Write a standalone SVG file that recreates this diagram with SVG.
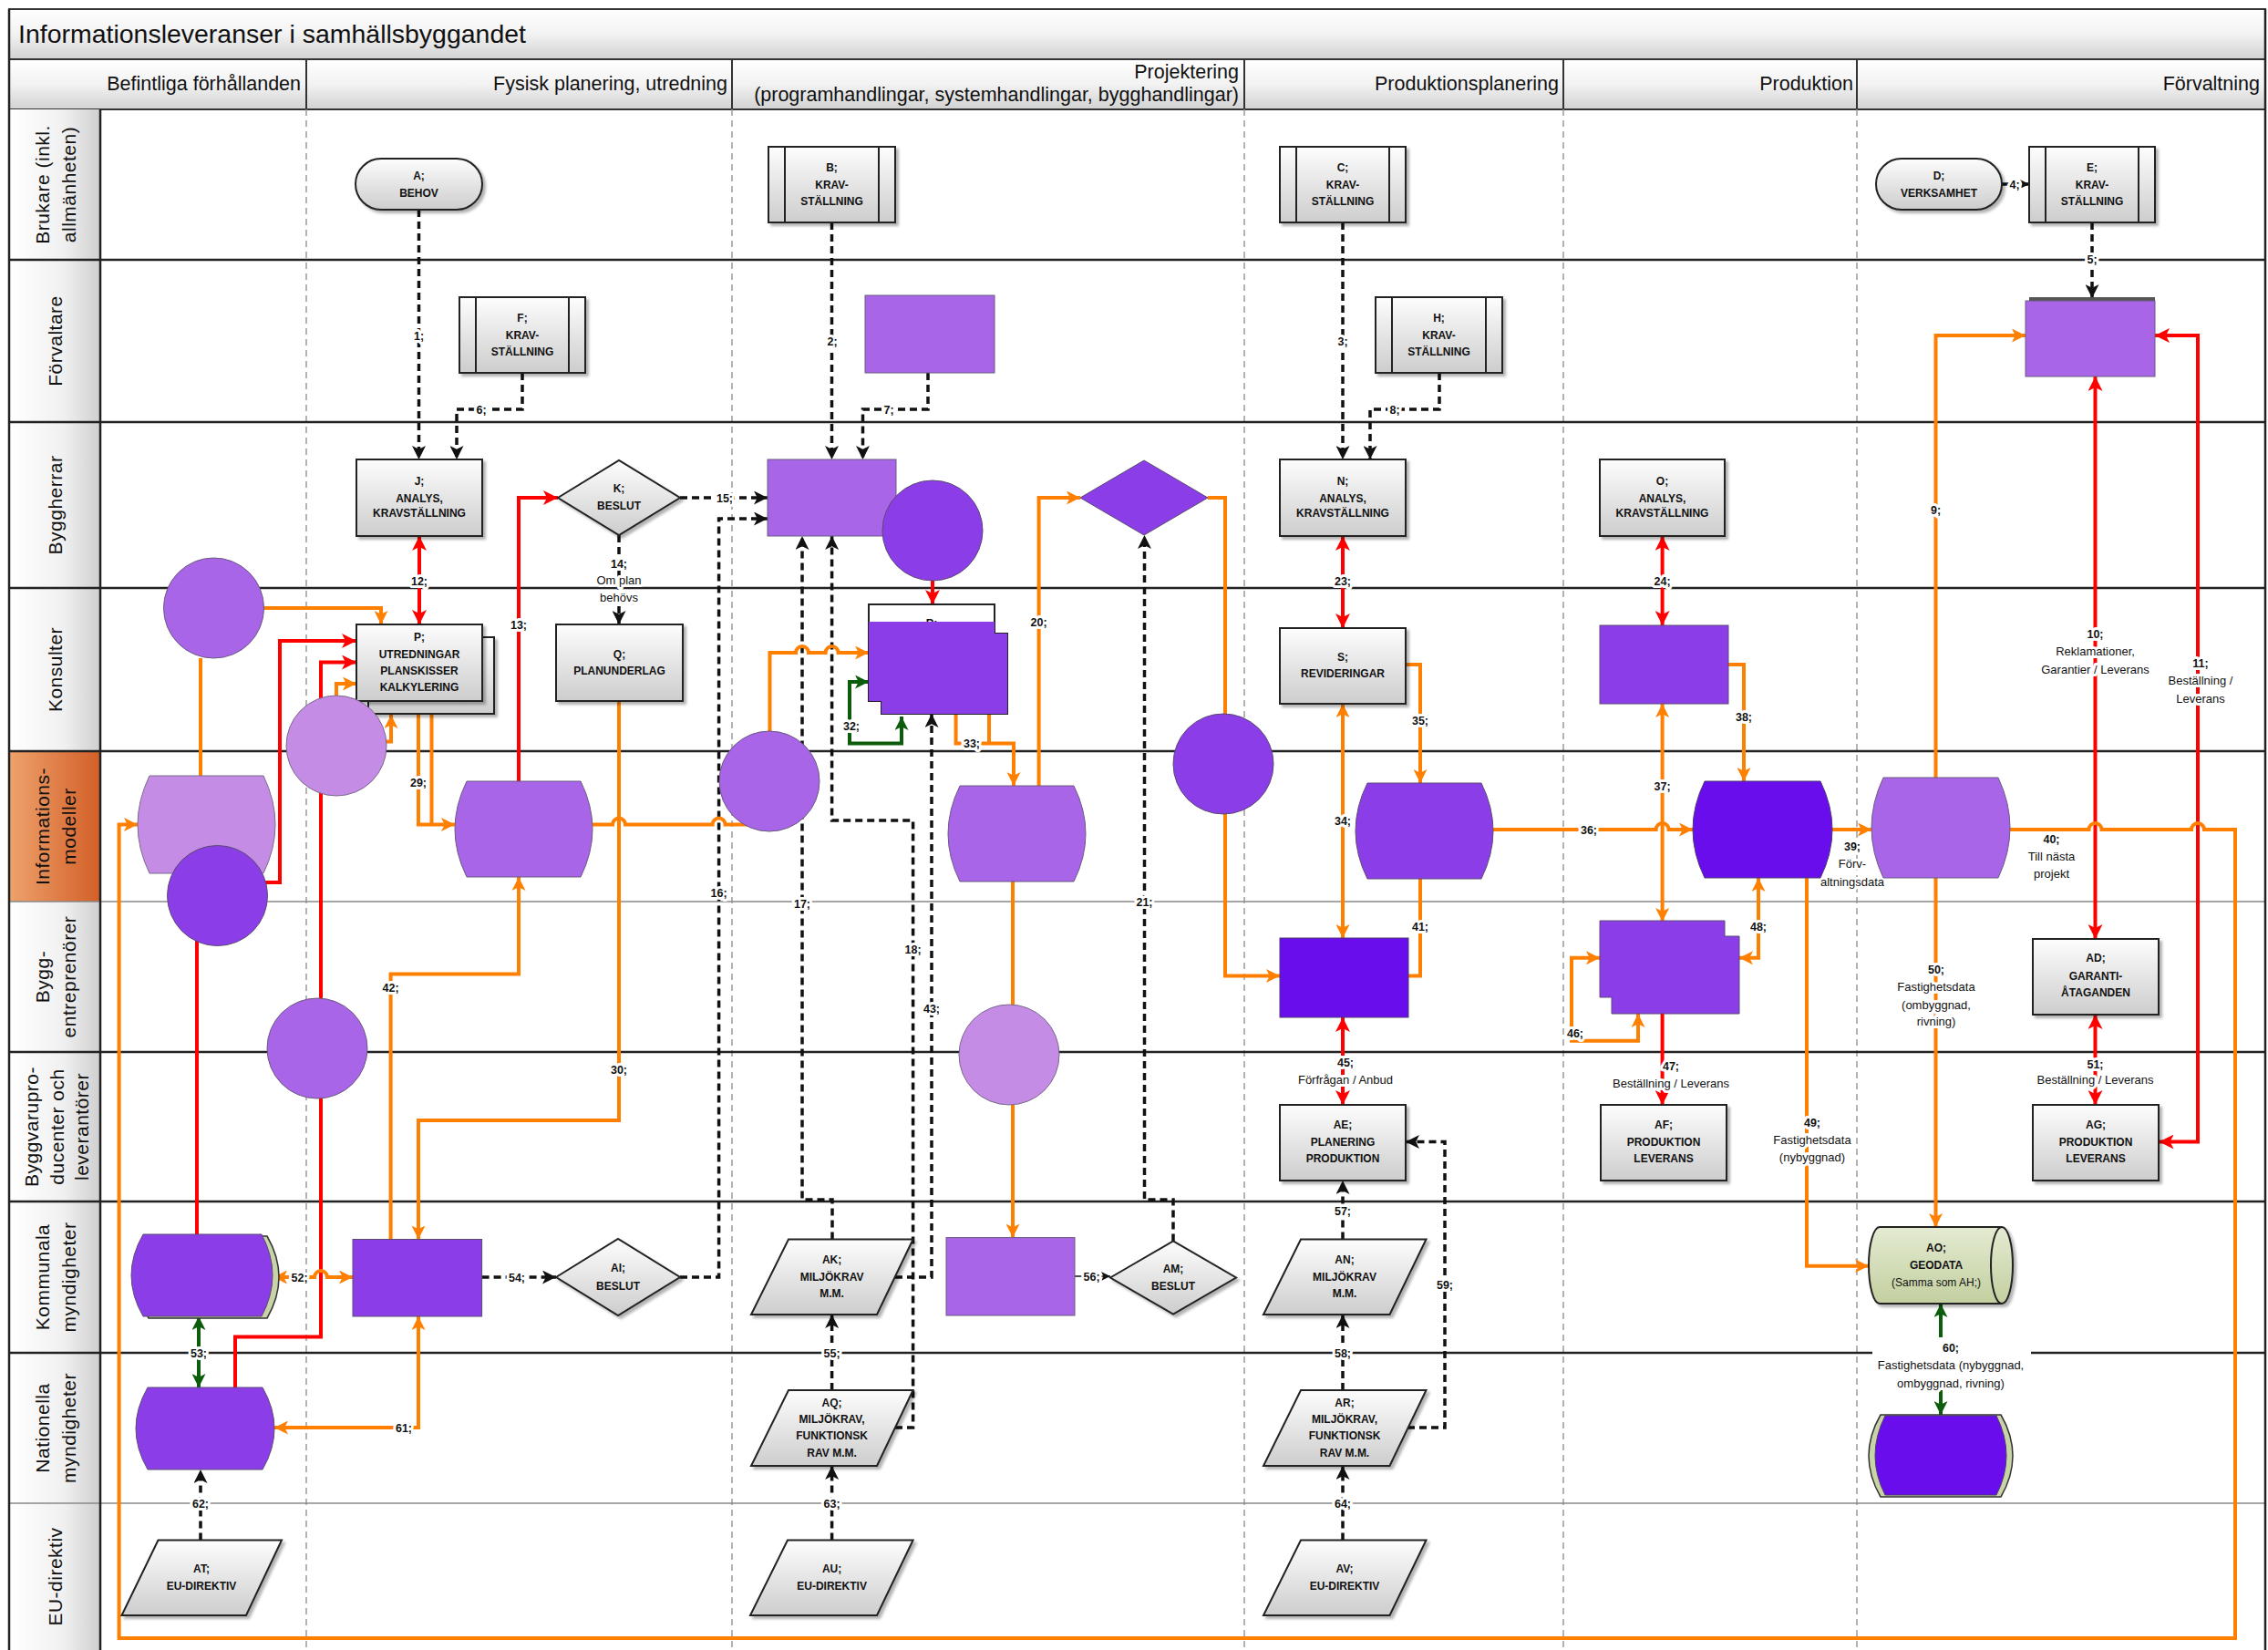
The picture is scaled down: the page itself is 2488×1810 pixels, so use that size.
<svg xmlns="http://www.w3.org/2000/svg" width="2488" height="1810" viewBox="0 0 2488 1810">
<defs>
<style>
text{font-family:"Liberation Sans",Arial,sans-serif;fill:#111}
.ttl{font-size:28px}
.ph{font-size:21.5px;text-anchor:end}
.ln{font-size:21px;text-anchor:middle;letter-spacing:0.5px}
.nt{font-size:12px;font-weight:bold;text-anchor:middle}
.lb{font-size:12.5px;font-weight:bold;text-anchor:middle;stroke:#fff;stroke-width:6px;paint-order:stroke;stroke-linejoin:round}
.rg{font-size:13px;font-weight:normal}
.o{fill:none;stroke:#ff7f00;stroke-width:4}
.r{fill:none;stroke:#ff0000;stroke-width:4}
.g{fill:none;stroke:#0b5d0b;stroke-width:4}
.d{fill:none;stroke:#111;stroke-width:3.5;stroke-dasharray:8 5}
.s{fill:none;stroke:#111;stroke-width:1.5}
.gray{fill:url(#gg);stroke:#222;stroke-width:2;filter:url(#sh)}
.pl{stroke:#222;stroke-width:2}
.v1{fill:#a865e8;stroke:#6b5a80;stroke-width:1}
.v2{fill:#8b3ee8;stroke:#5a4a70;stroke-width:1}
.v3{fill:#6a0ded;stroke:#4a3a70;stroke-width:1}
.v4{fill:#c58ce6;stroke:#7a6a8a;stroke-width:1}
.gs{fill:#c9d3a8;stroke:#333;stroke-width:1.5}
.lane{stroke:#222;stroke-width:2.5}
.lthin{stroke:#888;stroke-width:1.5}
.sep{stroke:#9a9a9a;stroke-width:1.5;stroke-dasharray:7 5}
</style>
<linearGradient id="gg" x1="0" y1="0" x2="0" y2="1"><stop offset="0" stop-color="#fdfdfd"/><stop offset="1" stop-color="#cdcdcd"/></linearGradient>
<linearGradient id="hdr" x1="0" y1="0" x2="0" y2="1"><stop offset="0" stop-color="#ffffff"/><stop offset="0.5" stop-color="#f2f2f2"/><stop offset="1" stop-color="#d2d2d2"/></linearGradient>
<linearGradient id="lane" x1="0" y1="0" x2="1" y2="0"><stop offset="0" stop-color="#ffffff"/><stop offset="0.6" stop-color="#f0f0f0"/><stop offset="1" stop-color="#cfcfcf"/></linearGradient>
<linearGradient id="orl" x1="0" y1="0" x2="1" y2="0"><stop offset="0" stop-color="#eea26c"/><stop offset="1" stop-color="#d35f28"/></linearGradient>
<linearGradient id="geo" x1="0" y1="0" x2="0" y2="1"><stop offset="0" stop-color="#e4ebd2"/><stop offset="1" stop-color="#c3cf9f"/></linearGradient>
<filter id="sh" x="-10%" y="-10%" width="130%" height="140%"><feDropShadow dx="3" dy="3" stdDeviation="1.5" flood-color="#000" flood-opacity="0.3"/></filter>
<marker id="mb" viewBox="0 0 10 10" refX="10" refY="5" markerWidth="15" markerHeight="15" markerUnits="userSpaceOnUse" orient="auto-start-reverse"><path d="M0,0 L10,5 L0,10 L2.5,5 z" fill="#111"/></marker>
<marker id="ms" viewBox="0 0 10 10" refX="10" refY="5" markerWidth="10" markerHeight="10" markerUnits="userSpaceOnUse" orient="auto-start-reverse"><path d="M0,0 L10,5 L0,10 L2.5,5 z" fill="#111"/></marker>
<marker id="mo" viewBox="0 0 10 10" refX="10" refY="5" markerWidth="15" markerHeight="15" markerUnits="userSpaceOnUse" orient="auto-start-reverse"><path d="M0,0 L10,5 L0,10 L2.5,5 z" fill="#ff7f00"/></marker>
<marker id="mr" viewBox="0 0 10 10" refX="10" refY="5" markerWidth="16" markerHeight="16" markerUnits="userSpaceOnUse" orient="auto-start-reverse"><path d="M0,0 L10,5 L0,10 L2.5,5 z" fill="#ff0000"/></marker>
<marker id="mg" viewBox="0 0 10 10" refX="10" refY="5" markerWidth="15" markerHeight="15" markerUnits="userSpaceOnUse" orient="auto-start-reverse"><path d="M0,0 L10,5 L0,10 L2.5,5 z" fill="#0b5d0b"/></marker>
</defs>

<rect x="0" y="0" width="2488" height="1810" fill="#fff"/>

<g id="frame">
<rect x="10" y="10" width="2475" height="55" fill="url(#hdr)" stroke="#333" stroke-width="2"/>
<text class="ttl" x="20" y="47" textLength="557" lengthAdjust="spacingAndGlyphs">Informationsleveranser i samhällsbyggandet</text>
<rect x="10" y="65" width="2475" height="55" fill="url(#hdr)" stroke="#333" stroke-width="2"/>
<g stroke="#333" stroke-width="2">
<line x1="336" y1="65" x2="336" y2="120"/><line x1="803" y1="65" x2="803" y2="120"/><line x1="1365" y1="65" x2="1365" y2="120"/><line x1="1715" y1="65" x2="1715" y2="120"/><line x1="2037" y1="65" x2="2037" y2="120"/>
</g>
<text class="ph" x="330" y="99">Befintliga förhållanden</text>
<text class="ph" x="798" y="99">Fysisk planering, utredning</text>
<text class="ph" x="1359" y="86">Projektering</text>
<text class="ph" x="1359" y="111">(programhandlingar, systemhandlingar, bygghandlingar)</text>
<text class="ph" x="1710" y="99">Produktionsplanering</text>
<text class="ph" x="2033" y="99">Produktion</text>
<text class="ph" x="2479" y="99">Förvaltning</text>

<rect x="10" y="120" width="100" height="165" fill="url(#lane)"/>
<rect x="10" y="285" width="100" height="178" fill="url(#lane)"/>
<rect x="10" y="463" width="100" height="182" fill="url(#lane)"/>
<rect x="10" y="645" width="100" height="179" fill="url(#lane)"/>
<rect x="10" y="824" width="100" height="165" fill="url(#orl)"/>
<rect x="10" y="989" width="100" height="165" fill="url(#lane)"/>
<rect x="10" y="1154" width="100" height="164" fill="url(#lane)"/>
<rect x="10" y="1318" width="100" height="166" fill="url(#lane)"/>
<rect x="10" y="1484" width="100" height="165" fill="url(#lane)"/>
<rect x="10" y="1649" width="100" height="165" fill="url(#lane)"/>

<g class="sep">
<line x1="336" y1="120" x2="336" y2="1810"/><line x1="803" y1="120" x2="803" y2="1810"/><line x1="1365" y1="120" x2="1365" y2="1810"/><line x1="1715" y1="120" x2="1715" y2="1810"/><line x1="2037" y1="120" x2="2037" y2="1810"/>
</g>
<g>
<line class="lane" x1="10" y1="285" x2="2485" y2="285"/>
<line class="lane" x1="10" y1="463" x2="2485" y2="463"/>
<line class="lane" x1="10" y1="645" x2="2485" y2="645"/>
<line class="lane" x1="10" y1="824" x2="2485" y2="824"/>
<line class="lthin" x1="10" y1="989" x2="2485" y2="989"/>
<line class="lane" x1="10" y1="1154" x2="2485" y2="1154"/>
<line class="lane" x1="10" y1="1318" x2="2485" y2="1318"/>
<line class="lane" x1="10" y1="1484" x2="2485" y2="1484"/>
<line class="lthin" x1="10" y1="1649" x2="2485" y2="1649"/>
<line class="lane" x1="110" y1="120" x2="110" y2="1812"/>
<line class="lane" x1="10" y1="10" x2="10" y2="1812"/>
<line class="lane" x1="2485" y1="10" x2="2485" y2="1812"/>
</g>

<text class="ln" transform="translate(68.5,202.5) rotate(-90)"><tspan x="0" y="-14.5">Brukare (inkl.</tspan><tspan x="0" y="14.5">allmänheten)</tspan></text>
<text class="ln" transform="translate(68,374) rotate(-90)">Förvaltare</text>
<text class="ln" transform="translate(68,554) rotate(-90)">Byggherrar</text>
<text class="ln" transform="translate(68,734.5) rotate(-90)">Konsulter</text>
<text class="ln" transform="translate(68.5,906.5) rotate(-90)"><tspan x="0" y="-14.5">Informations-</tspan><tspan x="0" y="14.5">modeller</tspan></text>
<text class="ln" transform="translate(68.5,1071.5) rotate(-90)"><tspan x="0" y="-14.5">Bygg-</tspan><tspan x="0" y="14.5">entreprenörer</tspan></text>
<text class="ln" transform="translate(70,1236) rotate(-90)"><tspan x="0" y="-28">Byggvarupro-</tspan><tspan x="0" y="0">ducenter och</tspan><tspan x="0" y="27">leverantörer</tspan></text>
<text class="ln" transform="translate(68.5,1401) rotate(-90)"><tspan x="0" y="-14.5">Kommunala</tspan><tspan x="0" y="14.5">myndigheter</tspan></text>
<text class="ln" transform="translate(68.5,1566.5) rotate(-90)"><tspan x="0" y="-14.5">Nationella</tspan><tspan x="0" y="14.5">myndigheter</tspan></text>
<text class="ln" transform="translate(68,1729.5) rotate(-90)">EU-direktiv</text>
</g>

<g id="connectors">
<path class="d" d="M459.5 230 V504" marker-end="url(#mb)"/>
<path class="d" d="M573 409 V449 H501 V504" marker-end="url(#mb)"/>
<path class="d" d="M912.5 244 V504" marker-end="url(#mb)"/>
<path class="d" d="M1018 409 V449 H946.5 V504" marker-end="url(#mb)"/>
<path class="d" d="M1473 244 V504" marker-end="url(#mb)"/>
<path class="d" d="M1579 409 V449 H1503 V504" marker-end="url(#mb)"/>
<path class="d" d="M2196 202 H2226" marker-end="url(#ms)"/>
<path class="d" d="M2295 244 V327" marker-end="url(#mb)"/>
<path class="d" d="M746 546 H842" marker-end="url(#mb)"/>
<path class="d" d="M746 1401 H788.6 V569 H842" marker-end="url(#mb)"/>
<path class="d" d="M913 1359.5 V1316 H880 V588" marker-end="url(#mb)"/>
<path class="d" d="M982 1566 H1001.6 V900 H912.6 V588" marker-end="url(#mb)"/>
<path class="d" d="M982 1401 H1022 V783" marker-end="url(#mb)"/>
<path class="d" d="M1287 1361.5 V1316 H1255.5 V587" marker-end="url(#mb)"/>
<path class="d" d="M679 587 V685" marker-end="url(#mb)"/>
<path class="d" d="M528.6 1401 H610" marker-end="url(#mb)"/>
<path class="d" d="M220 1689.5 V1612" marker-end="url(#mb)"/>
<path class="d" d="M912.6 1525 V1442" marker-end="url(#mb)"/>
<path class="d" d="M912.6 1689.5 V1608" marker-end="url(#mb)"/>
<path class="d" d="M1473 1359.5 V1295" marker-end="url(#mb)"/>
<path class="d" d="M1473 1525 V1442" marker-end="url(#mb)"/>
<path class="d" d="M1473 1689.5 V1608" marker-end="url(#mb)"/>
<path class="d" d="M1544 1566 H1585 V1252.5 H1542" marker-end="url(#mb)"/>
<path class="s" d="M1179 1400 H1218" marker-end="url(#ms)"/>

<path class="r" d="M460 588 V685" marker-start="url(#mr)" marker-end="url(#mr)"/>
<path class="r" d="M569 857 V546 H612" marker-end="url(#mr)"/>
<path class="r" d="M2298.5 1030 V413" marker-start="url(#mr)" marker-end="url(#mr)"/>
<path class="r" d="M2368.6 1252.5 H2411 V368 H2364" marker-start="url(#mr)" marker-end="url(#mr)"/>
<path class="r" d="M1473 1116 V1212" marker-start="url(#mr)" marker-end="url(#mr)"/>
<path class="r" d="M1823.6 1112 V1212" marker-end="url(#mr)"/>
<path class="r" d="M2298.5 1113 V1212" marker-start="url(#mr)" marker-end="url(#mr)"/>
<path class="r" d="M1473 588 V689" marker-start="url(#mr)" marker-end="url(#mr)"/>
<path class="r" d="M1823.6 588 V686" marker-start="url(#mr)" marker-end="url(#mr)"/>
<path class="r" d="M216 1354 V968 H307 V703 H391" marker-end="url(#mr)"/>
<path class="r" d="M258 1522 V1466.5 H352 V726.5 H391" marker-end="url(#mr)"/>
<path class="r" d="M1023 637 V663" marker-end="url(#mr)"/>

<path class="o" d="M289 667 H418 V685" marker-end="url(#mo)"/>
<path class="o" d="M220 722 V851"/>
<path class="o" d="M369 763 V750 H391" marker-end="url(#mo)"/>
<path class="o" d="M423 813.5 H429 V784" marker-end="url(#mo)"/>
<path class="o" d="M459 783 V904.5 H499" marker-end="url(#mo)"/>
<path class="o" d="M473.5 783 V904.5"/>
<path class="o" d="M650 904.5 H672 A7 7 0 0 1 686 904.5 H781.6 A7 7 0 0 1 795.6 904.5 H844"/>
<path class="o" d="M844.5 802 V716 H873 A7 7 0 0 1 887 716 H905.6 A7 7 0 0 1 919.6 716 H953" marker-end="url(#mo)"/>
<path class="o" d="M679 769 V1229 H459 V1359.5" marker-end="url(#mo)"/>
<path class="o" d="M428.6 1359.5 V1068.5 H569 V962" marker-end="url(#mo)"/>
<path class="o" d="M459 1444 V1566 H301" marker-start="url(#mo)" marker-end="url(#mo)"/>
<path class="o" d="M300 1401 H345 A7 7 0 0 1 359 1401 H387" marker-start="url(#mo)" marker-end="url(#mo)"/>
<path class="o" d="M1048.6 768 V815.5 H1112 V862" marker-end="url(#mo)"/>
<path class="o" d="M1085 783 V815.5"/>
<path class="o" d="M1111 967 V1357.6" marker-end="url(#mo)"/>
<path class="o" d="M1139.6 862 V546 H1185" marker-end="url(#mo)"/>
<path class="o" d="M1325 546 H1344 V1070.5 H1404" marker-end="url(#mo)"/>
<path class="o" d="M1473 772 V1029" marker-start="url(#mo)" marker-end="url(#mo)"/>
<path class="o" d="M1542 729 H1558 V859" marker-end="url(#mo)"/>
<path class="o" d="M1558 964 V1070.5 H1545"/>
<path class="o" d="M1638 910 H1816.6 A7 7 0 0 1 1830.6 910 H1857" marker-end="url(#mo)"/>
<path class="o" d="M1823.6 772 V1011" marker-start="url(#mo)" marker-end="url(#mo)"/>
<path class="o" d="M1896 729 H1913 V857" marker-end="url(#mo)"/>
<path class="o" d="M1908 1050.8 H1929 V963" marker-start="url(#mo)" marker-end="url(#mo)"/>
<path class="o" d="M1797 1112 V1141.7 H1724 V1050.8 H1755" marker-start="url(#mo)" marker-end="url(#mo)"/>
<path class="o" d="M2010 910 H2053" marker-end="url(#mo)"/>
<path class="o" d="M2205 910 H2291.5 A7 7 0 0 1 2305.5 910 H2404 A7 7 0 0 1 2418 910 H2452 V1797 H130.6 V904.5 H151" marker-end="url(#mo)"/>
<path class="o" d="M2123.5 853 V368 H2222" marker-end="url(#mo)"/>
<path class="o" d="M2123.5 963 V1346" marker-end="url(#mo)"/>
<path class="o" d="M1982 963 V1388.7 H2050" marker-end="url(#mo)"/>

<path class="g" d="M989 786 V815.5 H932 V748 H953" marker-start="url(#mg)" marker-end="url(#mg)"/>
<path class="g" d="M218 1444 V1522" marker-start="url(#mg)" marker-end="url(#mg)"/>
<path class="g" d="M2129 1430 V1552" marker-start="url(#mg)" marker-end="url(#mg)"/>

<rect x="2054" y="1467" width="174" height="58" fill="#fff"/>
<g id="labels">
<text class="lb" x="459.5" y="372.5">1;</text>
<text class="lb" x="913" y="378.5">2;</text>
<text class="lb" x="1473" y="378.5">3;</text>
<text class="lb" x="2210" y="206.5">4;</text>
<text class="lb" x="2295" y="288.5">5;</text>
<text class="lb" x="528" y="453.5">6;</text>
<text class="lb" x="975" y="453.5">7;</text>
<text class="lb" x="1530" y="453.5">8;</text>
<text class="lb" x="2123.5" y="564">9;</text>
<text class="lb" x="2298.5" y="699.5">10;<tspan class="rg" x="2298.5" dy="19.5">Reklamationer,</tspan><tspan class="rg" x="2298.5" dy="19.5">Garantier / Leverans</tspan></text>
<text class="lb" x="2414" y="731.5">11;<tspan class="rg" x="2414" dy="19.5">Beställning /</tspan><tspan class="rg" x="2414" dy="19.5">Leverans</tspan></text>
<text class="lb" x="460" y="641.5">12;</text>
<text class="lb" x="569" y="689.5">13;</text>
<text class="lb" x="679" y="622.5">14;<tspan class="rg" x="679" dy="18.5">Om plan</tspan><tspan class="rg" x="679" dy="18.5">behövs</tspan></text>
<text class="lb" x="795" y="550.5">15;</text>
<text class="lb" x="788.6" y="983.5">16;</text>
<text class="lb" x="880" y="995.5">17;</text>
<text class="lb" x="1001.6" y="1045.5">18;</text>
<text class="lb" x="1139.6" y="686.5">20;</text>
<text class="lb" x="1255.5" y="993.5">21;</text>
<text class="lb" x="1473" y="641.5">23;</text>
<text class="lb" x="1823.6" y="641.5">24;</text>
<text class="lb" x="459" y="862.5">29;</text>
<text class="lb" x="679" y="1177.5">30;</text>
<text class="lb" x="934" y="800.5">32;</text>
<text class="lb" x="1066" y="819.5">33;</text>
<text class="lb" x="1473" y="904.5">34;</text>
<text class="lb" x="1558" y="794.5">35;</text>
<text class="lb" x="1743" y="914.5">36;</text>
<text class="lb" x="1823.6" y="866.5">37;</text>
<text class="lb" x="1913" y="790.5">38;</text>
<text class="lb" x="2032" y="932.5">39;<tspan class="rg" x="2032" dy="19.5">Förv-</tspan><tspan class="rg" x="2032" dy="19.5">altningsdata</tspan></text>
<text class="lb" x="2250.5" y="924.5">40;<tspan class="rg" x="2250.5" dy="19">Till nästa</tspan><tspan class="rg" x="2250.5" dy="19">projekt</tspan></text>
<text class="lb" x="1558" y="1020.5">41;</text>
<text class="lb" x="428.6" y="1087.5">42;</text>
<text class="lb" x="1022" y="1110.5">43;</text>
<text class="lb" x="1476" y="1169.5">45;<tspan class="rg" x="1476" dy="19">Förfrågan / Anbud</tspan></text>
<text class="lb" x="1728" y="1137.5">46;</text>
<text class="lb" x="1833" y="1173.5">47;<tspan class="rg" x="1833" dy="19.5">Beställning / Leverans</tspan></text>
<text class="lb" x="1929" y="1020.5">48;</text>
<text class="lb" x="1988" y="1235.5">49;<tspan class="rg" x="1988" dy="19">Fastighetsdata</tspan><tspan class="rg" x="1988" dy="19">(nybyggnad)</tspan></text>
<text class="lb" x="2124" y="1067.5">50;<tspan class="rg" x="2124" dy="19.5">Fastighetsdata</tspan><tspan class="rg" x="2124" dy="19.5">(ombyggnad,</tspan><tspan class="rg" x="2124" dy="18">rivning)</tspan></text>
<text class="lb" x="2298.5" y="1171.5">51;<tspan class="rg" x="2298.5" dy="17.5">Beställning / Leverans</tspan></text>
<text class="lb" x="328.6" y="1405.5">52;</text>
<text class="lb" x="218" y="1488.5">53;</text>
<text class="lb" x="567" y="1405.5">54;</text>
<text class="lb" x="912.6" y="1488.5">55;</text>
<text class="lb" x="1197.6" y="1404.5">56;</text>
<text class="lb" x="1473" y="1332.5">57;</text>
<text class="lb" x="1473" y="1488.5">58;</text>
<text class="lb" x="1585" y="1413.5">59;</text>
<text class="lb" x="2140" y="1482.5">60;<tspan class="rg" x="2140" dy="19.5">Fastighetsdata (nybyggnad,</tspan><tspan class="rg" x="2140" dy="19.5">ombyggnad, rivning)</tspan></text>
<text class="lb" x="443" y="1570.5">61;</text>
<text class="lb" x="220" y="1653.5">62;</text>
<text class="lb" x="912.6" y="1653.5">63;</text>
<text class="lb" x="1473" y="1653.5">64;</text>
</g>
</g>

<g id="n-A"><rect class="gray" x="390" y="174" width="139" height="56" rx="28"/><text class="nt" x="459.5" y="197">A;</text><text class="nt" x="459.5" y="216">BEHOV</text></g>
<g id="n-B"><rect class="gray" x="843" y="161" width="139" height="83"/><path class="pl" d="M861 161 V244 M964 161 V244"/><text class="nt" x="912.5" y="188">B;</text><text class="nt" x="912.5" y="206.5">KRAV-</text><text class="nt" x="912.5" y="225">STÄLLNING</text></g>
<g id="n-C"><rect class="gray" x="1404" y="161" width="138" height="83"/><path class="pl" d="M1422 161 V244 M1524 161 V244"/><text class="nt" x="1473" y="188">C;</text><text class="nt" x="1473" y="206.5">KRAV-</text><text class="nt" x="1473" y="225">STÄLLNING</text></g>
<g id="n-D"><rect class="gray" x="2058" y="174" width="138" height="56" rx="28"/><text class="nt" x="2127" y="197">D;</text><text class="nt" x="2127" y="216">VERKSAMHET</text></g>
<g id="n-E"><rect class="gray" x="2226" y="161" width="138" height="83"/><path class="pl" d="M2244 161 V244 M2346 161 V244"/><text class="nt" x="2295" y="188">E;</text><text class="nt" x="2295" y="206.5">KRAV-</text><text class="nt" x="2295" y="225">STÄLLNING</text></g>
<g id="n-F"><rect class="gray" x="504" y="326" width="138" height="83"/><path class="pl" d="M522 326 V409 M624 326 V409"/><text class="nt" x="573" y="353">F;</text><text class="nt" x="573" y="371.5">KRAV-</text><text class="nt" x="573" y="390">STÄLLNING</text></g>
<g id="n-G"><rect class="v1" x="949" y="324" width="142" height="85"/></g>
<g id="n-H"><rect class="gray" x="1509" y="326" width="139" height="83"/><path class="pl" d="M1527 326 V409 M1630 326 V409"/><text class="nt" x="1578.5" y="353">H;</text><text class="nt" x="1578.5" y="371.5">KRAV-</text><text class="nt" x="1578.5" y="390">STÄLLNING</text></g>
<g id="n-I"><rect x="2226" y="326" width="138" height="83" fill="#555"/><rect class="v1" x="2222" y="330" width="142" height="83"/></g>

<g id="n-J"><rect class="gray" x="391" y="504" width="138" height="84"/><text class="nt" x="460" y="532">J;</text><text class="nt" x="460" y="550.5">ANALYS,</text><text class="nt" x="460" y="567">KRAVSTÄLLNING</text></g>
<g id="n-K"><path class="gray" d="M612 546 L679 505 L746 546 L679 587 Z"/><text class="nt" x="679" y="540">K;</text><text class="nt" x="679" y="559">BESLUT</text></g>
<g id="n-L"><rect class="v1" x="842" y="504" width="141" height="84"/></g>
<g id="n-M"><circle class="v2" cx="1023" cy="582" r="55"/></g>
<g id="n-W"><path class="v2" d="M1185 546 L1255 505 L1325 546 L1255 587 Z"/></g>
<g id="n-N"><rect class="gray" x="1404" y="504" width="138" height="84"/><text class="nt" x="1473" y="532">N;</text><text class="nt" x="1473" y="550.5">ANALYS,</text><text class="nt" x="1473" y="567">KRAVSTÄLLNING</text></g>
<g id="n-O"><rect class="gray" x="1755" y="504" width="137" height="84"/><text class="nt" x="1823.5" y="532">O;</text><text class="nt" x="1823.5" y="550.5">ANALYS,</text><text class="nt" x="1823.5" y="567">KRAVSTÄLLNING</text></g>

<g id="n-P"><rect class="gray" x="404" y="699" width="138" height="84"/><rect class="gray" x="391" y="685" width="138" height="84"/><text class="nt" x="460" y="703">P;</text><text class="nt" x="460" y="722">UTREDNINGAR</text><text class="nt" x="460" y="740">PLANSKISSER</text><text class="nt" x="460" y="758">KALKYLERING</text></g>
<g id="n-Q"><rect class="gray" x="610" y="685" width="139" height="84"/><text class="nt" x="679.5" y="722">Q;</text><text class="nt" x="679.5" y="740">PLANUNDERLAG</text></g>
<g id="n-R"><rect x="967" y="695" width="138" height="88" fill="#fff" stroke="#222" stroke-width="2"/><rect x="953" y="663" width="138" height="106" fill="#fff" stroke="#222" stroke-width="2"/><text class="nt" x="1022" y="688">R;</text><path d="M953 682 H1091 V695 H1105 V783 H967 V769 H953 Z" fill="#8b3ee8"/></g>
<g id="n-S"><rect class="gray" x="1404" y="689" width="138" height="83"/><text class="nt" x="1473" y="724.5">S;</text><text class="nt" x="1473" y="743">REVIDERINGAR</text></g>
<g id="n-T"><rect class="v2" x="1755" y="686" width="141" height="86" stroke="#333" stroke-width="1.5"/></g>

<g id="n-C1"><circle class="v1" cx="234.5" cy="667" r="55"/></g>
<g id="n-IM1"><path class="v4" d="M164 851 H289 Q315 904.5 289 958 H164 Q138 904.5 164 851 Z"/></g>
<g id="n-C2"><circle class="v4" cx="369" cy="818" r="55"/></g>
<g id="n-C3"><circle class="v2" cx="238.5" cy="982.5" r="55"/></g>
<g id="n-IM2"><path class="v1" d="M512 857 H637 Q663 909.5 637 962 H512 Q486 909.5 512 857 Z"/></g>
<g id="n-C6"><circle class="v1" cx="844" cy="857" r="55"/></g>
<g id="n-IM3"><path class="v1" d="M1053 862 H1178 Q1204 914.5 1178 967 H1053 Q1027 914.5 1053 862 Z"/></g>
<g id="n-C8"><circle class="v2" cx="1342" cy="838" r="55"/></g>
<g id="n-IM4"><path class="v2" d="M1500 859 H1625 Q1651 911.5 1625 964 H1500 Q1474 911.5 1500 859 Z"/></g>
<g id="n-IM5"><path class="v3" d="M1870 857 H1997 Q2023 910 1997 963 H1870 Q1844 910 1870 857 Z"/></g>
<g id="n-IM6"><path class="v1" d="M2066 853 H2192 Q2218 908 2192 963 H2066 Q2040 908 2066 853 Z"/></g>

<g id="n-AA"><rect class="v3" x="1404" y="1029" width="141" height="87"/></g>
<g id="n-AB"><path class="v2" d="M1755 1010 H1892 V1027 H1908 V1112 H1768 V1094 H1755 Z" stroke="#333" stroke-width="1.5"/></g>
<g id="n-AD"><rect class="gray" x="2230" y="1030" width="138" height="83"/><text class="nt" x="2299" y="1055">AD;</text><text class="nt" x="2299" y="1074.5">GARANTI-</text><text class="nt" x="2299" y="1093">ÅTAGANDEN</text></g>
<g id="n-C4"><circle class="v1" cx="348" cy="1150" r="55"/></g>
<g id="n-C7"><circle class="v4" cx="1107" cy="1157" r="55"/></g>

<g id="n-AE"><rect class="gray" x="1404" y="1212" width="138" height="83"/><text class="nt" x="1473" y="1238">AE;</text><text class="nt" x="1473" y="1256.5">PLANERING</text><text class="nt" x="1473" y="1275">PRODUKTION</text></g>
<g id="n-AF"><rect class="gray" x="1756" y="1212" width="138" height="83"/><text class="nt" x="1825" y="1238">AF;</text><text class="nt" x="1825" y="1256.5">PRODUKTION</text><text class="nt" x="1825" y="1275">LEVERANS</text></g>
<g id="n-AG"><rect class="gray" x="2230" y="1212" width="138" height="83"/><text class="nt" x="2299" y="1238">AG;</text><text class="nt" x="2299" y="1256.5">PRODUKTION</text><text class="nt" x="2299" y="1275">LEVERANS</text></g>

<g id="n-KM1"><path class="gs" d="M163 1356 H293 Q319 1401 293 1446 H163 Q137 1401 163 1356 Z"/><path class="v2" d="M157 1354 H287 Q311 1399 287 1444 H157 Q131 1399 157 1354 Z"/></g>
<g id="n-KM2"><rect class="v2" x="387" y="1359.5" width="141.6" height="84.5"/></g>
<g id="n-AI"><path class="gray" d="M610 1401 L678 1359 L746 1401 L678 1443 Z"/><text class="nt" x="678" y="1395">AI;</text><text class="nt" x="678" y="1414.5">BESLUT</text></g>
<g id="n-AK"><path class="gray" d="M865 1359.5 H1001.6 L962 1442 H824 Z"/><text class="nt" x="912.6" y="1386">AK;</text><text class="nt" x="912.6" y="1405">MILJÖKRAV</text><text class="nt" x="912.6" y="1423">M.M.</text></g>
<g id="n-KM3"><rect class="v1" x="1038" y="1357.6" width="141" height="85.4"/></g>
<g id="n-AM"><path class="gray" d="M1218 1401.5 L1287 1361.5 L1356 1401.5 L1287 1441.5 Z"/><text class="nt" x="1287" y="1395.5">AM;</text><text class="nt" x="1287" y="1415">BESLUT</text></g>
<g id="n-AN"><path class="gray" d="M1427 1359.5 H1564.5 L1524.5 1442 H1386 Z"/><text class="nt" x="1475" y="1386">AN;</text><text class="nt" x="1475" y="1405">MILJÖKRAV</text><text class="nt" x="1475" y="1423">M.M.</text></g>
<g id="n-AO"><path d="M2062 1346 H2196 A12 42 0 0 1 2196 1430 H2062 A12 42 0 0 1 2062 1346 Z" fill="url(#geo)" stroke="#222" stroke-width="2" filter="url(#sh)"/><path d="M2196 1346 A12 42 0 0 0 2196 1430" fill="none" stroke="#222" stroke-width="2"/><text class="nt" x="2124" y="1373">AO;</text><text class="nt" x="2124" y="1392">GEODATA</text><text class="nt" x="2124" y="1411" style="font-weight:normal">(Samma som AH;)</text></g>

<g id="n-NB1"><path class="v2" d="M162 1522 H288 Q314 1567 288 1612 H162 Q136 1567 162 1522 Z"/></g>
<g id="n-AQ"><path class="gray" d="M865 1525 H1001.6 L962 1608 H824 Z"/><text class="nt" x="912.6" y="1543">AQ;</text><text class="nt" x="912.6" y="1561">MILJÖKRAV,</text><text class="nt" x="912.6" y="1579">FUNKTIONSK</text><text class="nt" x="912.6" y="1598">RAV M.M.</text></g>
<g id="n-AR"><path class="gray" d="M1427 1525 H1564.5 L1524.5 1608 H1386 Z"/><text class="nt" x="1475" y="1543">AR;</text><text class="nt" x="1475" y="1561">MILJÖKRAV,</text><text class="nt" x="1475" y="1579">FUNKTIONSK</text><text class="nt" x="1475" y="1598">RAV M.M.</text></g>
<g id="n-NB2"><path class="gs" d="M2063 1552 H2195 Q2221 1597 2195 1642 H2063 Q2037 1597 2063 1552 Z"/><path class="v3" d="M2068 1553 H2190 Q2212 1597 2190 1640 H2068 Q2046 1597 2068 1553 Z"/></g>

<g id="n-AT"><path class="gray" d="M173.5 1689.5 H309 L270 1772 H133.5 Z"/><text class="nt" x="221" y="1725">AT;</text><text class="nt" x="221" y="1744">EU-DIREKTIV</text></g>
<g id="n-AU"><path class="gray" d="M864 1689.5 H1001.6 L962 1772 H823 Z"/><text class="nt" x="912.6" y="1725">AU;</text><text class="nt" x="912.6" y="1744">EU-DIREKTIV</text></g>
<g id="n-AV"><path class="gray" d="M1427 1689.5 H1564.5 L1524.5 1772 H1386 Z"/><text class="nt" x="1475" y="1725">AV;</text><text class="nt" x="1475" y="1744">EU-DIREKTIV</text></g>
</svg>
